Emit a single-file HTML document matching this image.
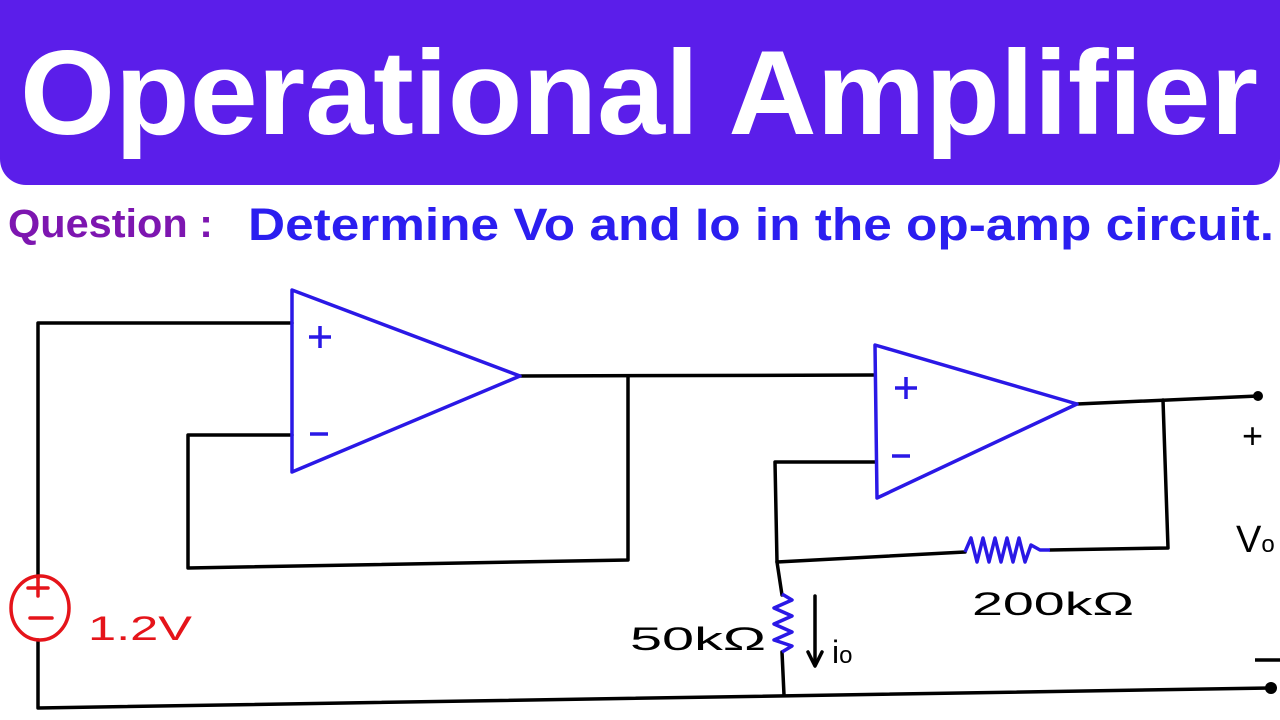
<!DOCTYPE html>
<html><head><style>html,body{margin:0;padding:0;background:#fff;width:1280px;height:720px;overflow:hidden}</style></head>
<body>
<svg width="1280" height="720" viewBox="0 0 1280 720" xmlns="http://www.w3.org/2000/svg">
<rect x="0" y="-30" width="1280" height="215" rx="26" fill="#5b1eea"/>
<text x="20" y="134" font-family="Liberation Sans, sans-serif" font-weight="bold" font-size="120" fill="#fff" textLength="1238" lengthAdjust="spacingAndGlyphs">Operational Amplifier</text>
<text x="8" y="237" font-family="Liberation Sans, sans-serif" font-weight="bold" font-size="40" fill="#7d16b0" textLength="205" lengthAdjust="spacingAndGlyphs">Question :</text>
<text x="248" y="240" font-family="Liberation Sans, sans-serif" font-weight="bold" font-size="45" fill="#2b1ef0" textLength="1026" lengthAdjust="spacingAndGlyphs">Determine Vo and Io in the op-amp circuit.</text>
<g stroke="#000" stroke-width="3.5" fill="none" stroke-linecap="round" stroke-linejoin="round">
<polyline points="292,323 38,323 38,578"/>
<polyline points="38,640 38,708 1270,688"/>
<polyline points="292,435 188,435 188,568 628,560 628,376"/>
<line x1="520" y1="376" x2="875" y2="375"/>
<line x1="1077" y1="404" x2="1258" y2="396"/>
<polyline points="1163,400 1168,548 1050,550"/>
<polyline points="875,462 775,462 777,562 965,552"/>
<line x1="777" y1="562" x2="782" y2="595"/>
<line x1="782" y1="652" x2="784" y2="695"/>
<line x1="815" y1="596" x2="815" y2="664"/>
<polyline points="808,652 815,666 822,652"/>
</g>
<circle cx="1258" cy="396" r="5" fill="#000"/>
<circle cx="1271" cy="688" r="6" fill="#000"/>
<g stroke="#2a18e6" stroke-width="3.5" fill="none" stroke-linejoin="round">
<polygon points="292,290 292,472 520,376"/>
<polygon points="875,345 877,498 1077,404"/>
<polyline points="965,552 971,538 977,562 983,538 989,562 995,538 1001,562 1007,538 1013,562 1019,538 1025,562 1031,545 1040,550 1050,550"/>
<polyline points="782,594 792,600 774,608 792,616 774,624 792,632 774,640 792,646 782,652"/>
<path d="M309,337h22M320,326v22M310,434h18M895,388h22M906,377v22M892,456h18"/>
</g>
<g stroke="#e5141a" stroke-width="3.5" fill="none" stroke-linecap="round">
<ellipse cx="40" cy="608" rx="29" ry="32"/>
<path d="M28,588h20M38,578v18M30,618h22"/>
</g>
<text x="88" y="640" font-family="Liberation Sans, sans-serif" font-size="34" fill="#e5141a" textLength="104" lengthAdjust="spacingAndGlyphs">1.2V</text>
<text x="630" y="650" font-family="Liberation Sans, sans-serif" font-size="32" fill="#000" textLength="136" lengthAdjust="spacingAndGlyphs">50kΩ</text>
<text x="832" y="663" font-family="Liberation Sans, sans-serif" font-size="32" fill="#000">i<tspan font-size="24">o</tspan></text>
<text x="972" y="615" font-family="Liberation Sans, sans-serif" font-size="32" fill="#000" textLength="162" lengthAdjust="spacingAndGlyphs">200kΩ</text>
<text x="1236" y="552" font-family="Liberation Sans, sans-serif" font-size="38" fill="#000">V<tspan font-size="24">o</tspan></text>
<text x="1242" y="448" font-family="Liberation Sans, sans-serif" font-size="36" fill="#000">+</text>
<line x1="1255" y1="660" x2="1280" y2="660" stroke="#000" stroke-width="3.5"/>
</svg>
</body></html>
